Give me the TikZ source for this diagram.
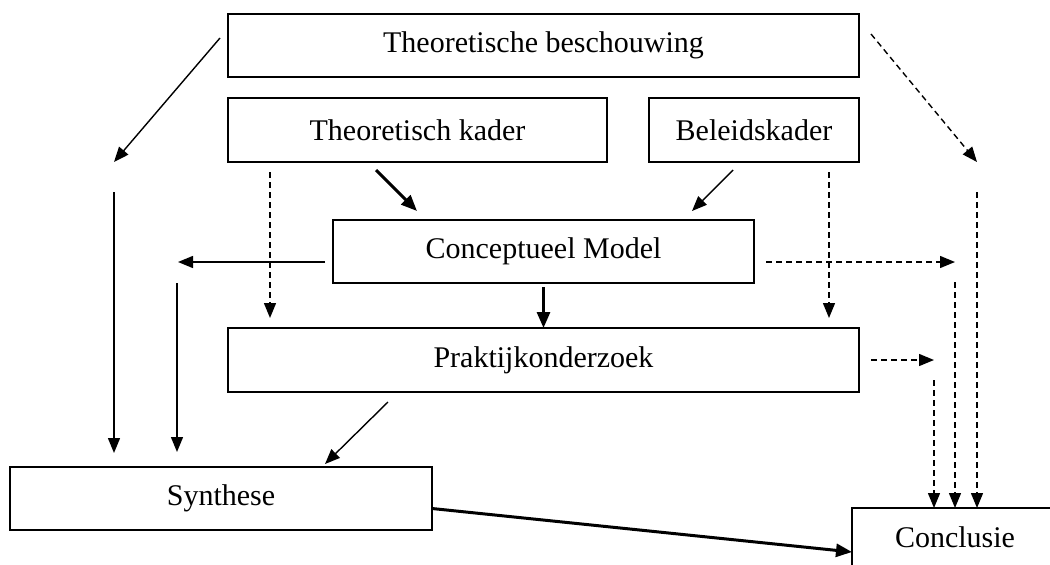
\documentclass[tikz,border=0pt]{standalone}
\usepackage{fontspec}
\setmainfont{Liberation Serif}
\usetikzlibrary{arrows.meta}

\tikzset{
  blok/.style={draw, line width=1.3pt, rectangle, inner sep=0pt, outer sep=0pt,
    font=\fontsize{30}{36}\selectfont},
  pijl/.style={line width=1.4pt, -{Triangle[length=15pt,width=12pt]}},
  dikpijl/.style={line width=3pt, -{Triangle[length=16pt,width=13pt]}},
  stippel/.style={pijl, dash pattern=on 6pt off 4pt},
}

\begin{document}
\begin{tikzpicture}[x=1pt,y=-1pt]
\useasboundingbox (0,0) rectangle (1050,565);
\clip (0,0) rectangle (1050,565);
\fill[white] (0,0) rectangle (1050,565);

\node[blok, minimum width=631pt, minimum height=63pt] (beschouwing) at (543.5,45.5) {Theoretische beschouwing};
\node[blok, minimum width=379pt, minimum height=64pt] (kader) at (417.5,130) {Theoretisch kader};
\node[blok, minimum width=210pt, minimum height=64pt] (beleid) at (754,130) {Beleidskader};
\node[blok, minimum width=421pt, minimum height=63pt] (model) at (543.5,251.5) {Conceptueel Model};
\node[blok, minimum width=631pt, minimum height=64pt] (praktijk) at (543.5,360) {Praktijkonderzoek};
\node[blok, minimum width=422pt, minimum height=63pt] (synthese) at (221,498.5) {Synthese};
\node[blok, minimum width=206pt, minimum height=58pt] (conclusie) at (955,537) {Conclusie};

\coordinate (bl1) at (220,38);
\coordinate (bl2) at (114,162);
\coordinate (vl1) at (114,192);
\coordinate (ml1) at (325,262);
\coordinate (ml2) at (178,262);
\coordinate (vm1) at (177,283);
\coordinate (kd1) at (270,172);
\coordinate (km1) at (376,170);
\coordinate (km2) at (417,211);
\coordinate (bm1) at (733,170);
\coordinate (bm2) at (692,211);
\coordinate (bd1) at (829,172);
\coordinate (mr1) at (766,262);
\coordinate (mr2) at (955,262);
\coordinate (vr1) at (955,282);
\coordinate (pr1) at (871,360);
\coordinate (pr2) at (934,360);
\coordinate (vp1) at (934,380);
\coordinate (br1) at (871,34);
\coordinate (br2) at (977,162);
\coordinate (vb1) at (977,192);
\coordinate (ps1) at (388,402);
\coordinate (ps2) at (325,464);

\draw[pijl] (bl1) -- (bl2);
\draw[pijl] (vl1) -- (vl1 |- 0,453);
\draw[pijl] (ml1) -- (ml2);
\draw[pijl] (vm1) -- (vm1 |- 0,452);
\draw[stippel] (kd1) -- (kd1 |- 0,318);
\draw[dikpijl] (km1) -- (km2);
\draw[pijl] (bm1) -- (bm2);
\draw[dikpijl, shorten <=4pt] (model.south) -- (praktijk.north);
\draw[stippel] (bd1) -- (bd1 |- 0,318);
\draw[stippel] (mr1) -- (mr2);
\draw[stippel] (vr1) -- (vr1 |- conclusie.north);
\draw[stippel] (pr1) -- (pr2);
\draw[stippel] (vp1) -- (vp1 |- conclusie.north);
\draw[stippel] (br1) -- (br2);
\draw[stippel] (vb1) -- (vb1 |- conclusie.north);
\draw[pijl] (ps1) -- (ps2);
\draw[dikpijl] ([yshift=-10pt]synthese.east) -- ([yshift=-15pt]conclusie.west);
\end{tikzpicture}
\end{document}
